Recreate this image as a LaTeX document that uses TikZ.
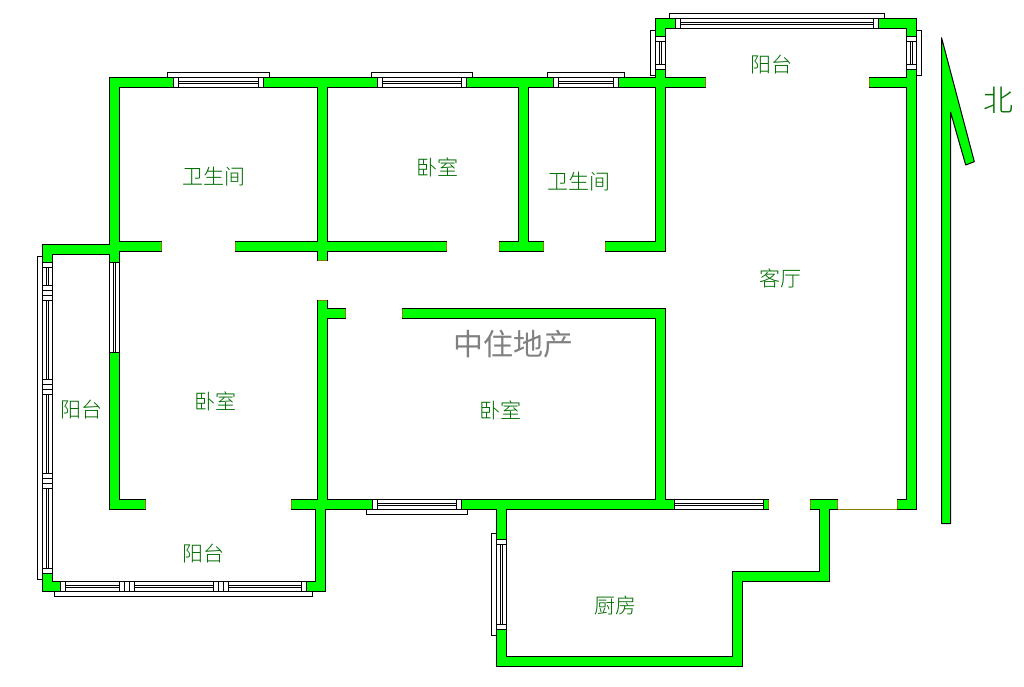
\documentclass[tikz,border=0pt]{standalone}
\usepackage{fontspec}
\setmainfont{Noto Sans CJK SC}
\newfontfamily\roomfont{Noto Sans CJK SC Light}
\usepackage{tikz}

\definecolor{wallgreen}{RGB}{0,255,0}
\definecolor{labelgreen}{RGB}{0,110,0}
\definecolor{jambolive}{RGB}{136,128,0}

\newcommand{\walllist}{110/78/173/87, 264/78/377/87, 467/78/553/87, 619/78/705/87,
  110/78/119/262, 119/242/161/251, 236/242/446/251, 318/87/327/260,
  519/87/528/242, 500/242/543/251, 656/70/665/251, 606/242/665/251,
  656/19/665/36, 656/19/675/28, 879/19/916/28, 907/19/916/36,
  907/69/916/509, 870/78/907/87, 898/500/916/509, 811/500/837/509,
  820/509/829/581, 733/572/829/581, 733/572/742/666, 497/657/742/666,
  497/509/506/539, 497/630/506/666, 403/309/665/318, 656/309/665/509,
  318/301/327/509, 327/309/345/318, 292/500/372/509, 462/500/674/509,
  764/500/768/509, 316/509/325/591, 307/582/325/591, 43/582/60/591,
  43/574/52/591, 43/245/110/254, 43/245/52/262, 110/353/119/509,
  110/500/145/509}

\begin{document}
\begin{tikzpicture}[x=1pt,y=-1pt,line width=1pt,
    room label/.style={font=\roomfont\fontsize{21}{21}\selectfont,text=labelgreen,inner sep=0pt},
    glass/.style={draw=black,fill=white}]

    \useasboundingbox (0,0) rectangle (1024,687);

    \foreach \xa/\ya/\xb/\yb in \walllist
      \draw[black,line width=2pt] (\xa,\ya) rectangle (\xb,\yb);
    \foreach \xa/\ya/\xb/\yb in \walllist
      \fill[wallgreen] (\xa,\ya) rectangle (\xb,\yb);

    \foreach \xa/\ya/\yb in {161/242/251, 235/242/251, 446/242/251,
        499/242/251, 543/242/251, 605/242/251, 705/78/87, 869/78/87,
        897/500/509, 810/500/509, 837/500/509, 768/500/509,
        291/500/509, 145/500/509, 402/309/318, 345/309/318}
      \draw[jambolive] (\xa+.5,\ya) -- (\xa+.5,\yb);
    \draw[jambolive] (318,260.5) -- (327,260.5);
    \draw[jambolive] (318,300.5) -- (327,300.5);
    \draw[jambolive] (838,509.5) -- (897,509.5);

    \foreach \xa/\xb/\ya/\yr/\ys in {173/263/77/77.5/72.5, 377/466/77/77.5/72.5,
        553/618/77/77.5/72.5, 675/878/18/18.5/13.5, 372/461/499/509.5/514.5, 60/306/581/591.5/596.5} {
      \draw[glass] (\xa-5.5,\yr) rectangle (\xb+6.5,\ys);
      \draw[glass] (\xa+.5,\ya+.5) rectangle (\xb+.5,\ya+10.5);
      \draw (\xa+.5,\ya+4.5) -- (\xb+.5,\ya+4.5);
      \draw (\xa+.5,\ya+6.5) -- (\xb+.5,\ya+6.5);
      \draw[glass] (\xa+.5,\ya+.5) rectangle (\xa+5.5,\ya+10.5);
      \draw[glass] (\xb-4.5,\ya+.5) rectangle (\xb+.5,\ya+10.5);
    }
    \draw[glass] (674.5,499.5) rectangle (763.5,509.5);
    \draw (674.5,503.5) -- (763.5,503.5);
    \draw (674.5,505.5) -- (763.5,505.5);
    \foreach \xa in {119,213} {
      \draw[glass] (\xa+.5,581.5) rectangle (\xa+15.5,591.5);
      \draw (\xa+5.5,581.5) -- (\xa+5.5,591.5);
      \draw (\xa+10.5,581.5) -- (\xa+10.5,591.5);
    }

    \foreach \ya/\yb/\xa/\xr/\xs in {262/573/42/42.5/37.5, 539/629/496/496.5/491.5,
        36/69/655/655.5/650.5, 36/69/906/916.5/921.5} {
      \draw[glass] (\xr,\ya-5.5) rectangle (\xs,\yb+6.5);
      \draw[glass] (\xa+.5,\ya+.5) rectangle (\xa+10.5,\yb+.5);
      \draw (\xa+4.5,\ya+.5) -- (\xa+4.5,\yb+.5);
      \draw (\xa+6.5,\ya+.5) -- (\xa+6.5,\yb+.5);
      \draw[glass] (\xa+.5,\ya+.5) rectangle (\xa+10.5,\ya+5.5);
      \draw[glass] (\xa+.5,\yb-4.5) rectangle (\xa+10.5,\yb+.5);
    }
    \draw[glass] (109.5,262.5) rectangle (119.5,352.5);
    \draw (113.5,262.5) -- (113.5,352.5);
    \draw (115.5,262.5) -- (115.5,352.5);
    \foreach \ya in {285,379,473} {
      \draw[glass] (42.5,\ya+.5) rectangle (52.5,\ya+15.5);
      \draw (42.5,\ya+5.5) -- (52.5,\ya+5.5);
      \draw (42.5,\ya+10.5) -- (52.5,\ya+10.5);
    }

    \draw[fill=wallgreen,line join=bevel] (941.5,37.5) -- (974.3,161.7) -- (965.7,165) -- (950.5,112)
      -- (950.5,523.5) -- (941.5,523.5) -- cycle;

    \node[room label] (bath1) at (214,177) {卫生间};
    \node[room label] (bed1) at (437,167) {卧室};
    \node[room label] (bath2) at (579,182) {卫生间};
    \node[room label] (balcony1) at (771,65) {阳台};
    \node[room label] (living) at (780,278) {客厅};
    \node[room label] (bed2) at (215,401) {卧室};
    \node[room label] (bed3) at (500,410) {卧室};
    \node[room label] (balcony2) at (81,410) {阳台};
    \node[room label] (balcony3) at (203,554) {阳台};
    \node[room label] (kitchen) at (615,605) {厨房};
    \node[font=\fontsize{30}{30}\selectfont,text=gray,inner sep=0pt] (agency) at (513,344) {中住地产};
    \node[room label,font=\roomfont\fontsize{30}{30}\selectfont] (north) at (998,100) {北};
\end{tikzpicture}
\end{document}
